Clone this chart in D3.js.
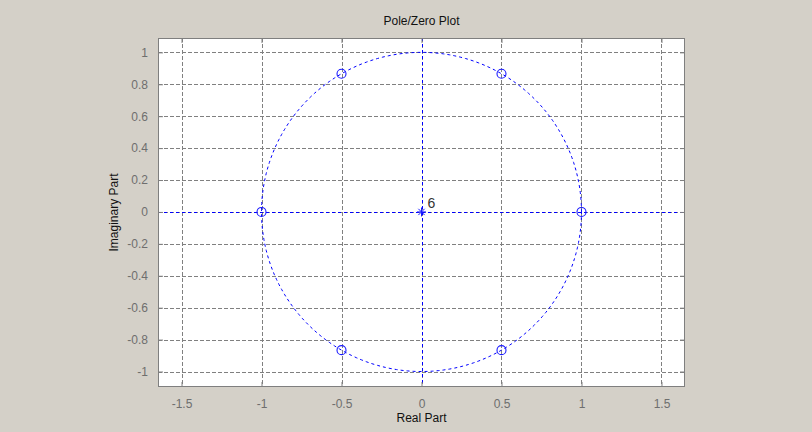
<!DOCTYPE html>
<html>
<head>
<meta charset="utf-8">
<script src="https://cdn.jsdelivr.net/npm/d3@7"></script>
<style>
  html, body { margin: 0; padding: 0; background: #d4d0c8; }
  svg { display: block; }
  text { font-family: "Liberation Sans", Arial, Helvetica, sans-serif; }
</style>
</head>
<body>
<svg id="chart" width="812" height="432"></svg>
<script>
// Zeros of z^6 - 1 (sixth roots of unity) and a 6th-order pole at the origin
const zeroRe = [1, 0.5, -0.5, -1, -0.5, 0.5];
const zeroIm = [0, 0.866, 0.866, 0, -0.866, -0.866];
const poleRe = [0];
const poleIm = [0];
const poleMultiplicity = ["6"];

const xTicks = [-1.5, -1, -0.5, 0, 0.5, 1, 1.5];
const yTicks = [-1, -0.8, -0.6, -0.4, -0.2, 0, 0.2, 0.4, 0.6, 0.8, 1];
const xDomain = [-1.647, 1.647];
const yDomain = [-1.097, 1.09];

const titleText = "Pole/Zero Plot";
const xLabelText = "Real Part";
const yLabelText = "Imaginary Part";

const box = { left: 158, top: 38, right: 685, bottom: 387 };
const svg = d3.select("#chart");

const x = d3.scaleLinear().domain(xDomain).range([box.left, box.right]);
const y = d3.scaleLinear().domain(yDomain).range([box.bottom, box.top]);

const W = box.right - box.left, H = box.bottom - box.top;
const gridColor = "#808080";
const blue = "#0000ff";

// plot area
svg.append("rect")
  .attr("x", box.left).attr("y", box.top)
  .attr("width", W).attr("height", H)
  .attr("fill", "#ffffff");

// dashed grid
const grid = svg.append("g").attr("stroke", gridColor).attr("stroke-width", 1)
  .attr("stroke-dasharray", "4,2").attr("fill", "none");
grid.selectAll(".gx").data(xTicks).join("line")
  .attr("x1", d => Math.round(x(d)) + 0.5).attr("x2", d => Math.round(x(d)) + 0.5)
  .attr("y1", box.top).attr("y2", box.bottom);
grid.selectAll(".gy").data(yTicks).join("line")
  .attr("y1", d => Math.round(y(d)) + 0.5).attr("y2", d => Math.round(y(d)) + 0.5)
  .attr("x1", box.left).attr("x2", box.right);

// unit circle and the real/imaginary axes
const ref = svg.append("g").attr("stroke", blue).attr("stroke-width", 1)
  .attr("stroke-dasharray", "3,3").attr("fill", "none");
const circlePts = d3.range(0, 361, 1).map(a => [Math.cos(a * Math.PI / 180), Math.sin(a * Math.PI / 180)]);
ref.append("path")
  .attr("d", d3.line().x(d => x(d[0])).y(d => y(d[1]))(circlePts));
ref.append("line")
  .attr("x1", box.left).attr("x2", box.right)
  .attr("y1", Math.round(y(0)) + 0.5).attr("y2", Math.round(y(0)) + 0.5);
ref.append("line")
  .attr("x1", Math.round(x(0)) + 0.5).attr("x2", Math.round(x(0)) + 0.5)
  .attr("y1", box.top).attr("y2", box.bottom);

// axes with inward ticks on all four sides
const tickLen = 5;
const axisColor = "#7f7f7f";
function styleAxis(g) {
  g.select(".domain").remove();
  g.selectAll(".tick line").attr("stroke", axisColor);
  g.selectAll(".tick text").attr("fill", "#6e6e6e").attr("font-size", 12);
}
const fmt = d => String(d);
svg.append("g").attr("transform", `translate(0,${box.bottom})`)
  .call(d3.axisBottom(x).tickValues(xTicks).tickFormat(fmt).tickSizeInner(-tickLen).tickSizeOuter(0).tickPadding(12))
  .call(styleAxis);
svg.append("g").attr("transform", `translate(0,${box.top})`)
  .call(d3.axisTop(x).tickValues(xTicks).tickFormat("").tickSizeInner(-tickLen).tickSizeOuter(0))
  .call(styleAxis);
svg.append("g").attr("transform", `translate(${box.left},0)`)
  .call(d3.axisLeft(y).tickValues(yTicks).tickFormat(fmt).tickSizeInner(-tickLen).tickSizeOuter(0).tickPadding(10))
  .call(styleAxis);
svg.append("g").attr("transform", `translate(${box.right},0)`)
  .call(d3.axisRight(y).tickValues(yTicks).tickFormat("").tickSizeInner(-tickLen).tickSizeOuter(0))
  .call(styleAxis);

// frame
svg.append("rect")
  .attr("x", box.left + 0.5).attr("y", box.top + 0.5)
  .attr("width", W - 1).attr("height", H - 1)
  .attr("fill", "none").attr("stroke", axisColor).attr("stroke-width", 1);

// zeros: open circles
const zeros = zeroRe.map((r, i) => [r, zeroIm[i]]);
svg.append("g").selectAll("circle").data(zeros).join("circle")
  .attr("cx", d => x(d[0])).attr("cy", d => y(d[1])).attr("r", 4.5)
  .attr("fill", "none").attr("stroke", "#1a1aff").attr("stroke-width", 1.1);

// poles: asterisks with multiplicity label
const poles = poleRe.map((r, i) => [r, poleIm[i], poleMultiplicity[i]]);
const pg = svg.append("g").selectAll("g").data(poles).join("g")
  .attr("transform", d => `translate(${x(d[0])},${y(d[1])})`);
const s = 4.5;
pg.append("path")
  .attr("d", `M${-s},0H${s}M0,${-s}V${s}M${-s*0.7},${-s*0.7}L${s*0.7},${s*0.7}M${-s*0.7},${s*0.7}L${s*0.7},${-s*0.7}`)
  .attr("stroke", "#1a1aff").attr("stroke-width", 1).attr("fill", "none");
pg.append("text")
  .attr("x", 6).attr("y", -4)
  .attr("font-size", 14).attr("fill", "#333333")
  .text(d => d[2]);

// title and axis labels
svg.append("text")
  .attr("x", (box.left + box.right) / 2).attr("y", 25)
  .attr("text-anchor", "middle").attr("font-size", 12).attr("fill", "#111")
  .text(titleText);
svg.append("text")
  .attr("x", (box.left + box.right) / 2).attr("y", 422)
  .attr("text-anchor", "middle").attr("font-size", 12).attr("fill", "#111")
  .text(xLabelText);
svg.append("text")
  .attr("transform", `translate(118,${(box.top + box.bottom) / 2}) rotate(-90)`)
  .attr("text-anchor", "middle").attr("font-size", 12).attr("fill", "#111")
  .text(yLabelText);
</script>
</body>
</html>
